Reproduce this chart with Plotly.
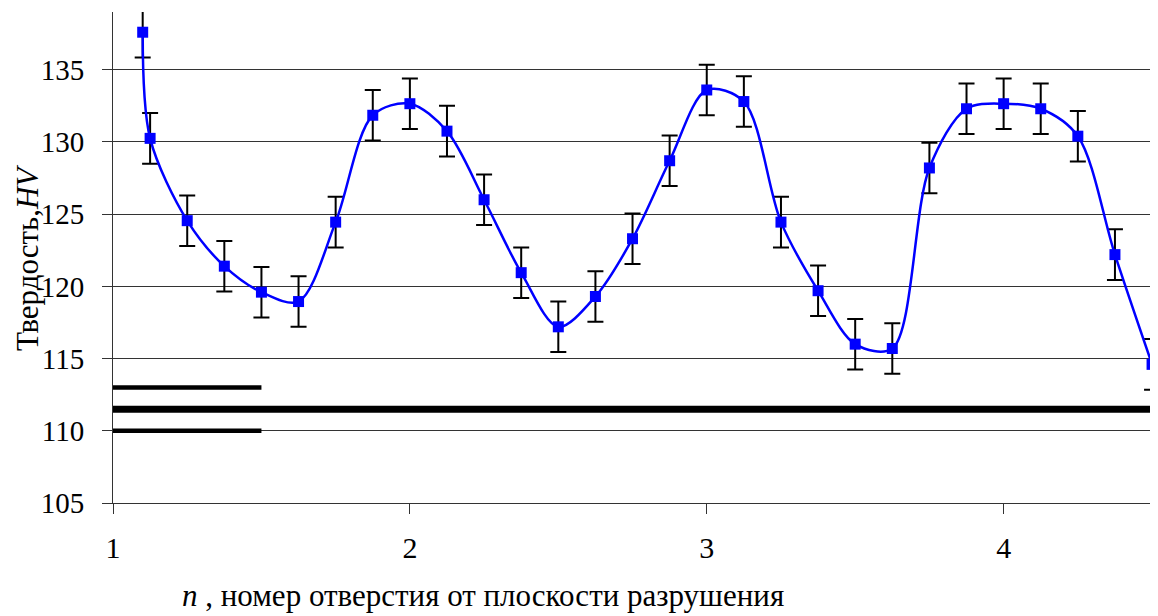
import plotly.graph_objects as go

# Data
n_pos = [1.1, 1.125, 1.25, 1.375, 1.5, 1.625, 1.75, 1.875, 2.0, 2.125, 2.25, 2.375,
         2.5, 2.625, 2.75, 2.875, 3.0, 3.125, 3.25, 3.375, 3.5, 3.625, 3.75, 3.875,
         4.0, 4.125, 4.25, 4.375, 4.5]
hardness = [137.6, 130.25, 124.55, 121.4, 119.6, 118.95, 124.45, 131.85, 132.65, 130.75,
            126.0, 120.95, 117.2, 119.3, 123.3, 128.7, 133.6, 132.8, 124.45, 119.7,
            116.0, 115.7, 128.2, 132.3, 132.65, 132.3, 130.4, 122.2, 114.6]
hardness_err = 1.75

# Reference levels
base_level_x = [1.0, 4.52]
base_level_y = 111.5
band_x = [1.0, 1.5]
band_upper = 113.0
band_lower = 110.0

x_ticks = [1, 2, 3, 4]
y_ticks = [105, 110, 115, 120, 125, 130, 135]

FONT = "Liberation Serif, Times New Roman, serif"

W, H = 1150, 608
L, R, T, B = 105, 0, 4, 113
PW, PH = W - L - R, H - T - B

fig = go.Figure()

fig.add_trace(go.Scatter(x=base_level_x, y=[base_level_y] * len(base_level_x), mode="lines",
                         line=dict(color="black", width=7), hoverinfo="skip", showlegend=False))
fig.add_trace(go.Scatter(x=band_x, y=[band_upper] * len(band_x), mode="lines",
                         line=dict(color="black", width=4.5), hoverinfo="skip", showlegend=False))
fig.add_trace(go.Scatter(x=band_x, y=[band_lower] * len(band_x), mode="lines",
                         line=dict(color="black", width=4.5), hoverinfo="skip", showlegend=False))

fig.add_trace(go.Scatter(
    x=n_pos, y=hardness, mode="lines+markers",
    line=dict(color="#0000FF", width=2.5, shape="spline", smoothing=0.9),
    marker=dict(symbol="square", size=11, color="#0000FF"),
    error_y=dict(type="constant", value=hardness_err, color="black", thickness=2, width=8),
    showlegend=False,
))

fig.update_layout(
    width=W, height=H,
    margin=dict(l=L, r=R, t=T, b=B),
    paper_bgcolor="white", plot_bgcolor="white",
    font=dict(family=FONT, color="black", size=28),
    xaxis=dict(range=[1, 4.52], tickvals=x_ticks, ticks="outside", ticklen=10,
               tickcolor="#333", showgrid=False, zeroline=False,
               showline=True, linecolor="#333", linewidth=1,
               tickfont=dict(family=FONT, size=30), ticklabelstandoff=8),
    yaxis=dict(range=[105, 139], tickvals=y_ticks, ticks="outside", ticklen=10,
               tickcolor="#333", showgrid=True, gridcolor="#333", gridwidth=1,
               zeroline=False, showline=True, linecolor="#333", linewidth=1,
               tickfont=dict(family=FONT, size=29), ticklabelstandoff=12),
    annotations=[
        dict(text="Твердость,<i>HV</i>", xref="paper", yref="paper",
             x=-85 / PW, y=(495 - 250) / PH, textangle=-90, showarrow=False,
             font=dict(family=FONT, size=31), xanchor="center", yanchor="middle",
             borderpad=0),
        dict(text="<i>n</i> , номер отверстия от плоскости разрушения", xref="paper", yref="paper",
             x=(475 - L) / PW, y=-(587 - 495) / PH, showarrow=False,
             font=dict(family=FONT, size=31), xanchor="center", yanchor="middle"),
    ],
)

fig.write_html("out.html")
